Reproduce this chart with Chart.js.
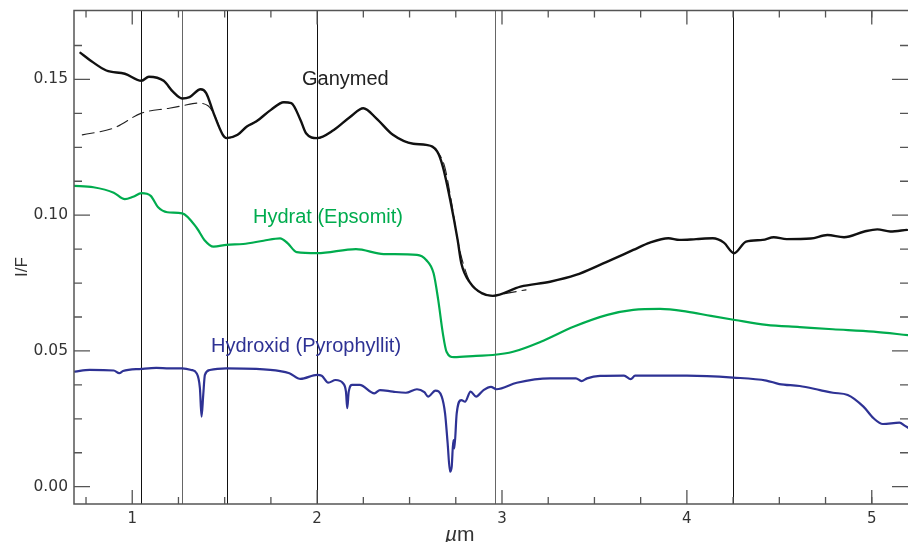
<!DOCTYPE html>
<html>
<head>
<meta charset="utf-8">
<script src="https://cdn.jsdelivr.net/npm/chart.js@4.4.1/dist/chart.umd.min.js"></script>
<style>
  html, body { margin: 0; padding: 0; background: #fff; }
  #wrap { width: 908px; height: 542px; }
</style>
</head>
<body>
<div id="wrap"><canvas id="spektrum" width="908" height="542"></canvas></div>
<script>
// Ganymed (durchgezogen)
const ganymedX = [0.72,0.77,0.86,0.96,1.05,1.09,1.17,1.22,1.27,1.31,1.37,1.40,1.44,1.49,1.51,1.57,1.62,1.67,1.75,1.82,1.86,1.91,1.94,2.00,2.09,2.18,2.25,2.32,2.41,2.52,2.59,2.65,2.68,2.72,2.76,2.78,2.83,2.89,2.95,3.10,3.26,3.40,3.53,3.60,3.71,3.80,3.90,3.96,4.05,4.14,4.20,4.255,4.32,4.41,4.47,4.54,4.67,4.76,4.85,4.96,5.03,5.10,5.19];
const ganymedY = [0.1598,0.1572,0.1533,0.1521,0.1495,0.1510,0.1495,0.1455,0.1430,0.1435,0.1464,0.1450,0.1376,0.1296,0.1284,0.1296,0.1327,0.1345,0.1388,0.1416,0.1413,0.1351,0.1302,0.1284,0.1314,0.1363,0.1394,0.1357,0.1296,0.1263,0.1259,0.1234,0.1179,0.1056,0.0909,0.0823,0.0749,0.0713,0.0703,0.0737,0.0755,0.0780,0.0817,0.0838,0.0872,0.0899,0.0915,0.0909,0.0912,0.0915,0.0899,0.0860,0.0903,0.0909,0.0919,0.0912,0.0914,0.0927,0.0919,0.0940,0.0948,0.0940,0.0946];

// Ganymed, zweite Messung (gestrichelt)
const ganymed2X = [0.73,0.90,1.05,1.20,1.27,1.35,1.41,1.44,1.49,1.51,1.57,1.62,1.67,1.75,1.82,1.86,1.91,1.94,2.00,2.09,2.18,2.25,2.32,2.41,2.52,2.59,2.65,2.69,2.725,2.76,2.79,2.83,2.89,2.95,3.03,3.13];
const ganymed2Y = [0.1296,0.1321,0.1376,0.1394,0.1403,0.1413,0.1403,0.1376,0.1296,0.1284,0.1296,0.1327,0.1345,0.1388,0.1416,0.1413,0.1351,0.1302,0.1284,0.1314,0.1363,0.1394,0.1357,0.1296,0.1263,0.1259,0.1234,0.1179,0.1056,0.0909,0.0823,0.0749,0.0713,0.0703,0.0713,0.0725];

// Hydrat (Epsomit)
const hydratX = [0.68,0.79,0.90,0.96,1.005,1.05,1.10,1.14,1.19,1.27,1.35,1.39,1.44,1.51,1.60,1.71,1.80,1.84,1.89,2.00,2.21,2.36,2.54,2.59,2.63,2.655,2.68,2.70,2.74,2.86,2.95,3.06,3.21,3.39,3.57,3.71,3.855,4.00,4.13,4.26,4.43,4.61,4.79,5.01,5.20];
const hydratY = [0.1108,0.1103,0.1083,0.1059,0.1068,0.1081,0.1071,0.1029,0.1011,0.1007,0.0952,0.0909,0.0884,0.0891,0.0894,0.0906,0.0915,0.0897,0.0864,0.0860,0.0875,0.0857,0.0854,0.0835,0.0786,0.0688,0.0565,0.0497,0.0477,0.0482,0.0485,0.0497,0.0534,0.0590,0.0633,0.0651,0.0655,0.0645,0.0629,0.0614,0.0596,0.0588,0.0580,0.0571,0.0558];

// Hydroxid (Pyrophyllit)
const hydroxidX = [0.69,0.77,0.90,0.93,0.95,1.05,1.13,1.20,1.27,1.32,1.348,1.366,1.375,1.384,1.393,1.42,1.51,1.67,1.80,1.85,1.91,2.00,2.025,2.06,2.10,2.14,2.156,2.163,2.171,2.19,2.23,2.31,2.34,2.41,2.48,2.54,2.58,2.60,2.64,2.674,2.692,2.706,2.719,2.728,2.737,2.742,2.755,2.78,2.80,2.83,2.86,2.90,2.94,2.97,3.08,3.26,3.40,3.43,3.46,3.53,3.66,3.696,3.72,4.00,4.25,4.43,4.50,4.61,4.72,4.79,4.87,4.955,5.01,5.06,5.15,5.18,5.20];
const hydroxidY = [0.0424,0.0430,0.0428,0.0418,0.0426,0.0434,0.0438,0.0436,0.0436,0.0430,0.0418,0.0363,0.0258,0.0338,0.0412,0.0430,0.0436,0.0434,0.0426,0.0418,0.0397,0.0412,0.0409,0.0383,0.0393,0.0381,0.0350,0.0289,0.0350,0.0375,0.0375,0.0344,0.0356,0.0350,0.0346,0.0359,0.0348,0.0332,0.0354,0.0332,0.0270,0.0160,0.0055,0.0074,0.0172,0.0141,0.0270,0.0319,0.0313,0.0350,0.0332,0.0356,0.0368,0.0359,0.0383,0.0399,0.0399,0.0389,0.0399,0.0408,0.0409,0.0396,0.0409,0.0409,0.0402,0.0391,0.0378,0.0371,0.0356,0.0346,0.0338,0.0295,0.0252,0.0231,0.0236,0.0224,0.0216];

// senkrechte Markierungen (µm)
const markLines = [1.05, 1.27, 1.51, 2.0, 2.96, 4.25];
const markGray = [false, true, false, false, true, false];

// Achsen
const xLabels = [1, 2, 3, 4, 5];
const xMinor = [0.75,1.25,1.5,1.75,2.25,2.5,2.75,3.25,3.5,3.75,4.25,4.5,4.75,5.0];
const yLabels = [0.00, 0.05, 0.10, 0.15];
const yMinor = [0.0125,0.025,0.0375,0.0625,0.075,0.0875,0.1125,0.125,0.1375,0.1625];

const C_BLACK = '#111111';
const C_GREEN = 'rgb(0, 172, 78)';
const C_BLUE = 'rgb(46, 50, 148)';
const C_AXIS = '#555555';

function toPoints(xs, ys) {
  return xs.map((v, i) => ({ x: v, y: ys[i] }));
}

const framePlugin = {
  id: 'frame',
  beforeDatasetsDraw(chart) {
    const { ctx, chartArea: a, scales: { x } } = chart;
    ctx.save();
    ctx.lineWidth = 1;
    markLines.forEach((v, i) => {
      const px = Math.round(x.getPixelForValue(v)) + 0.5;
      ctx.strokeStyle = markGray[i] ? '#666' : '#111';
      ctx.beginPath();
      ctx.moveTo(px, a.top);
      ctx.lineTo(px, a.bottom);
      ctx.stroke();
    });
    ctx.restore();
  },
  afterDraw(chart) {
    const { ctx, chartArea: a, scales: { x, y } } = chart;
    ctx.save();
    ctx.strokeStyle = C_AXIS;
    ctx.lineWidth = 1.5;
    // Rahmen: links, unten, oben (rechte Kante liegt am Bildrand)
    ctx.beginPath();
    ctx.moveTo(a.right + 2, a.top);
    ctx.lineTo(a.left, a.top);
    ctx.lineTo(a.left, a.bottom);
    ctx.lineTo(a.right + 2, a.bottom);
    ctx.stroke();

    ctx.lineWidth = 1.3;
    const xt = (v, len) => {
      const px = x.getPixelForValue(v);
      ctx.beginPath();
      ctx.moveTo(px, a.bottom); ctx.lineTo(px, a.bottom - len);
      ctx.moveTo(px, a.top); ctx.lineTo(px, a.top + len);
      ctx.stroke();
    };
    const yt = (v, len) => {
      const py = y.getPixelForValue(v);
      ctx.beginPath();
      ctx.moveTo(a.left, py); ctx.lineTo(a.left + len, py);
      ctx.moveTo(a.right, py); ctx.lineTo(a.right - len, py);
      ctx.stroke();
    };
    xLabels.forEach(v => xt(v, 14));
    xMinor.forEach(v => xt(v, 7));
    yLabels.forEach(v => yt(v, 16));
    yMinor.forEach(v => yt(v, 8));

    // Beschriftungen
    ctx.textBaseline = 'alphabetic';
    ctx.textAlign = 'left';
    ctx.font = '20px "Liberation Sans", Arial, sans-serif';
    ctx.fillStyle = '#222';
    ctx.fillText('Ganymed', 302, 85);
    ctx.fillStyle = C_GREEN;
    ctx.fillText('Hydrat (Epsomit)', 253, 223);
    ctx.fillStyle = C_BLUE;
    ctx.fillText('Hydroxid (Pyrophyllit)', 211, 351.5);

    // Achsentitel
    ctx.fillStyle = '#333';
    ctx.font = 'italic 21px "Liberation Sans", Arial, sans-serif';
    ctx.fillText('\u00b5', 445, 541);
    const w = ctx.measureText('\u00b5').width;
    ctx.font = '21px "Liberation Sans", Arial, sans-serif';
    ctx.fillText('m', 445 + w, 541);

    ctx.translate(27, 267);
    ctx.rotate(-Math.PI / 2);
    ctx.textAlign = 'center';
    ctx.font = '17px "Liberation Sans", Arial, sans-serif';
    ctx.fillText('I/F', 0, 0);
    ctx.restore();
  }
};

const data = {
  datasets: [
    {
      label: 'Ganymed',
      data: toPoints(ganymedX, ganymedY),
      borderColor: C_BLACK,
      borderWidth: 2.4,
      cubicInterpolationMode: 'monotone'
    },
    {
      label: 'Ganymed (2)',
      data: toPoints(ganymed2X, ganymed2Y),
      borderColor: '#222',
      borderWidth: 1.1,
      borderDash: [12, 6],
      cubicInterpolationMode: 'monotone'
    },
    {
      label: 'Hydrat (Epsomit)',
      data: toPoints(hydratX, hydratY),
      borderColor: C_GREEN,
      borderWidth: 2.2,
      cubicInterpolationMode: 'monotone'
    },
    {
      label: 'Hydroxid (Pyrophyllit)',
      data: toPoints(hydroxidX, hydroxidY),
      borderColor: C_BLUE,
      borderWidth: 2.2,
      cubicInterpolationMode: 'monotone'
    }
  ]
};

const config = {
  type: 'line',
  data: data,
  options: {
    responsive: false,
    animation: false,
    devicePixelRatio: 1,
    layout: { padding: { top: 10.5, right: 0, left: 0, bottom: 0 } },
    elements: { point: { radius: 0 }, line: { borderJoinStyle: 'round', borderCapStyle: 'round' } },
    plugins: { legend: { display: false }, tooltip: { enabled: false } },
    scales: {
      x: {
        type: 'linear',
        min: 0.685,
        max: 5.196,
        afterBuildTicks: s => { s.ticks = xLabels.map(v => ({ value: v })); },
        afterFit: s => { s.height = 38; s.paddingLeft = 0; s.paddingRight = 0; },
        grid: { display: false, drawTicks: false },
        border: { display: false },
        ticks: {
          padding: 6,
          color: '#333',
          font: { family: '"DejaVu Sans", sans-serif', size: 15 },
          callback: v => String(v)
        }
      },
      y: {
        type: 'linear',
        min: -0.00637,
        max: 0.1754,
        afterBuildTicks: s => { s.ticks = yLabels.map(v => ({ value: v })); },
        afterFit: s => { s.width = 74; s.paddingTop = 0; s.paddingBottom = 0; },
        grid: { display: false, drawTicks: false },
        border: { display: false },
        ticks: {
          padding: 6,
          color: '#333',
          font: { family: '"DejaVu Sans", sans-serif', size: 15.5 },
          callback: v => v.toFixed(2)
        }
      }
    }
  },
  plugins: [framePlugin]
};

const myChart = new Chart(document.getElementById('spektrum'), config);
</script>
</body>
</html>
